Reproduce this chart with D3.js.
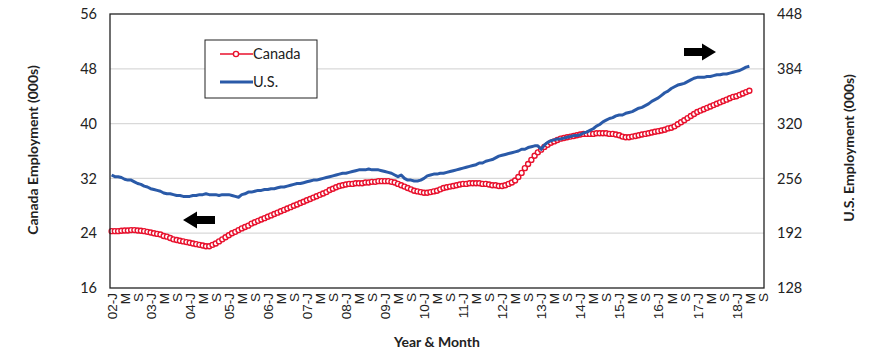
<!DOCTYPE html>
<html>
<head>
<meta charset="utf-8">
<script src="https://cdn.jsdelivr.net/npm/d3@7"></script>
<style>
  body { margin: 0; background: #fff; }
  svg { font-family: Lato, "DejaVu Sans", sans-serif; }
</style>
</head>
<body>
<svg width="870" height="362"></svg>
<script>
// category axis: Jan 2002 .. Sep 2018, labelled every 4th month
var years = ['02','03','04','05','06','07','08','09','10','11','12','13','14','15','16','17','18'];
var monthCodes = ['J','F','M','A','M','J','J','A','S','O','N','D'];
var lastMonth = 9; // axis runs to Sep of final year

// Canada employment (000s), monthly from 2002-01, one row per year
var canada = [
  24.3, 24.3, 24.3, 24.35, 24.4, 24.4, 24.45, 24.45, 24.4, 24.35, 24.3, 24.2,
  24.1, 24.0, 23.9, 23.8, 23.6, 23.5, 23.3, 23.1, 23.0, 22.9, 22.8, 22.7,
  22.6, 22.5, 22.4, 22.3, 22.2, 22.1, 22.1, 22.3, 22.5, 22.8, 23.1, 23.4,
  23.7, 24.0, 24.2, 24.45, 24.7, 24.9, 25.1, 25.4, 25.6, 25.8, 26.0, 26.2,
  26.4, 26.6, 26.8, 27.0, 27.2, 27.4, 27.6, 27.8, 28.0, 28.2, 28.4, 28.6,
  28.8, 29.0, 29.2, 29.4, 29.6, 29.8, 30.0, 30.3, 30.5, 30.7, 30.9, 31.0,
  31.1, 31.2, 31.2, 31.3, 31.3, 31.3, 31.4, 31.4, 31.5, 31.5, 31.6, 31.6,
  31.6, 31.6, 31.5, 31.4, 31.2, 31.0, 30.8, 30.6, 30.4, 30.2, 30.1, 30.0,
  29.9, 29.9, 30.0, 30.1, 30.2, 30.4, 30.6, 30.7, 30.8, 30.9, 31.0, 31.1,
  31.2, 31.2, 31.3, 31.3, 31.3, 31.3, 31.2, 31.2, 31.1, 31.0, 31.0, 30.9,
  30.9, 31.0, 31.2, 31.4, 31.7, 32.2, 32.8, 33.5, 34.1, 34.7, 35.3, 35.8,
  36.2, 36.6, 36.9, 37.2, 37.4, 37.6, 37.8, 37.9, 38.0, 38.1, 38.2, 38.3,
  38.4, 38.5, 38.5, 38.5, 38.5, 38.6, 38.6, 38.6, 38.6, 38.5, 38.5, 38.4,
  38.3, 38.1, 38.0, 38.0, 38.1, 38.2, 38.3, 38.4, 38.5, 38.6, 38.7, 38.8,
  38.9, 39.0, 39.1, 39.3, 39.4, 39.6, 39.9, 40.2, 40.5, 40.8, 41.1, 41.4,
  41.7, 41.9, 42.1, 42.3, 42.5, 42.7, 42.9, 43.1, 43.3, 43.5, 43.7, 43.9,
  44.0, 44.2, 44.4, 44.6, 44.8
];

// U.S. employment (000s), same months
var us = [
  260, 258, 258, 257, 255, 254, 254, 252, 250, 249, 247, 246,
  244, 243, 242, 241, 239, 238, 238, 237, 236, 236, 235, 235,
  235, 236, 236, 237, 237, 238, 237, 237, 237, 236, 237, 237,
  237, 236, 235, 234, 237, 238, 240, 240, 241, 242, 242, 243,
  243, 244, 244, 245, 246, 246, 247, 248, 249, 250, 250, 251,
  252, 253, 254, 254, 255, 256, 257, 258, 259, 260, 261, 262,
  262, 263, 264, 265, 266, 266, 266, 267, 266, 266, 266, 265,
  264, 263, 262, 260, 258, 260, 256, 254, 254, 253, 253, 254,
  256, 259, 260, 261, 261, 262, 262, 263, 264, 265, 266, 267,
  268, 269, 270, 271, 272, 274, 274, 276, 277, 278, 280, 282,
  283, 284, 285, 286, 287, 288, 290, 290, 292, 293, 294, 294,
  290, 295, 298, 300, 301, 302, 302, 303, 304, 305, 306, 306,
  307, 309, 310, 312, 314, 317, 319, 322, 324, 326, 327, 329,
  330, 330, 332, 333, 334, 336, 338, 339, 341, 343, 346, 348,
  350, 353, 356, 358, 361, 363, 365, 366, 367, 369, 371, 373,
  374, 374, 374, 375, 375, 376, 377, 377, 378, 378, 379, 380,
  381, 382, 384, 386, 387
];

var leftTicks = [16, 24, 32, 40, 48, 56];
var rightTicks = [128, 192, 256, 320, 384, 448];

var categories = [];
years.forEach(function(y, yi) {
  var n = (yi === years.length - 1) ? lastMonth : 12;
  for (var m = 0; m < n; m++) categories.push(y + '-' + m);
});
var tickLabel = function(c) {
  var p = c.split('-'), m = +p[1];
  return m === 0 ? p[0] + '-J' : monthCodes[m];
};

var svg = d3.select('svg');
var margin = {top: 14, right: 106, bottom: 74, left: 110},
    width = 870 - margin.left - margin.right,
    height = 362 - margin.top - margin.bottom;

var g = svg.append('g').attr('transform', 'translate(' + margin.left + ',' + margin.top + ')');

var x = d3.scalePoint().domain(categories).range([0, width]).padding(0.5);
var yL = d3.scaleLinear().domain([16, 56]).range([height, 0]);
var yR = d3.scaleLinear().domain([128, 448]).range([height, 0]);

// gridlines
g.selectAll('.grid').data(leftTicks.slice(1, -1)).enter().append('line')
    .attr('x1', 0).attr('x2', width)
    .attr('y1', function(d) { return yL(d); })
    .attr('y2', function(d) { return yL(d); })
    .attr('stroke', '#d9d9d9').attr('stroke-width', 1.2);

// axes
var axL = g.append('g')
    .call(d3.axisLeft(yL).tickValues(leftTicks).tickSize(0).tickPadding(13));
var axR = g.append('g').attr('transform', 'translate(' + width + ',0)')
    .call(d3.axisRight(yR).tickValues(rightTicks).tickSize(0).tickPadding(13));
var axB = g.append('g').attr('transform', 'translate(0,' + height + ')')
    .call(d3.axisBottom(x)
      .tickValues(categories.filter(function(d, i) { return i % 4 === 0; }))
      .tickFormat(tickLabel).tickSize(0));
[axL, axR].forEach(function(a) {
  a.select('.domain').remove();
  a.selectAll('text').attr('font-size', 14.5).attr('fill', '#222')
      .style('font-family', 'Lato, sans-serif');
});
axB.select('.domain').remove();
axB.selectAll('text')
    .attr('font-size', 13.5).attr('fill', '#222')
    .attr('text-anchor', 'end')
    .attr('transform', 'rotate(-90)')
    .attr('x', -5).attr('y', 0).attr('dy', '0.35em');

// series
var lineCa = d3.line()
    .x(function(d, i) { return x(categories[i]); })
    .y(function(d) { return yL(d); });
var lineUs = d3.line()
    .x(function(d, i) { return x(categories[i]); })
    .y(function(d) { return yR(d); });

g.append('path').datum(canada)
    .attr('d', lineCa).attr('fill', 'none')
    .attr('stroke', '#e8112d').attr('stroke-width', 1.5);
g.selectAll('.ca').data(canada).enter().append('circle')
    .attr('cx', function(d, i) { return x(categories[i]); })
    .attr('cy', function(d) { return yL(d); })
    .attr('r', 2.5)
    .attr('fill', '#fff').attr('stroke', '#e8112d').attr('stroke-width', 1.4);

g.append('path').datum(us)
    .attr('d', lineUs).attr('fill', 'none')
    .attr('stroke', '#2a5aa8').attr('stroke-width', 3)
    .attr('stroke-linejoin', 'round');

// frame
g.append('rect').attr('width', width).attr('height', height)
    .attr('fill', 'none').attr('stroke', '#222').attr('stroke-width', 1.3);

// axis titles
svg.append('text')
    .attr('transform', 'translate(38,' + (margin.top + 136) + ') rotate(-90)')
    .attr('text-anchor', 'middle').attr('font-size', 14).attr('font-weight', 'bold')
    .attr('fill', '#222').text('Canada Employment (000s)');
svg.append('text')
    .attr('transform', 'translate(854,' + (margin.top + 134) + ') rotate(-90)')
    .attr('text-anchor', 'middle').attr('font-size', 14).attr('font-weight', 'bold')
    .attr('fill', '#222').text('U.S. Employment (000s)');
svg.append('text')
    .attr('x', 437).attr('y', 347)
    .attr('text-anchor', 'middle').attr('font-size', 14).attr('font-weight', 'bold')
    .attr('fill', '#222').text('Year & Month');

// legend
var lg = svg.append('g').attr('transform', 'translate(205,40)');
lg.append('rect').attr('width', 112).attr('height', 58)
    .attr('fill', '#fff').attr('stroke', '#222').attr('stroke-width', 1);
lg.append('line').attr('x1', 15).attr('x2', 48).attr('y1', 14).attr('y2', 14)
    .attr('stroke', '#e8112d').attr('stroke-width', 1.5);
lg.append('circle').attr('cx', 31).attr('cy', 14).attr('r', 2.6)
    .attr('fill', '#fff').attr('stroke', '#e8112d').attr('stroke-width', 1.4);
lg.append('line').attr('x1', 15).attr('x2', 48).attr('y1', 42).attr('y2', 42)
    .attr('stroke', '#2a5aa8').attr('stroke-width', 3);
lg.append('text').attr('x', 48).attr('y', 14).attr('dy', '0.35em')
    .attr('font-size', 14.5).attr('fill', '#222').text('Canada');
lg.append('text').attr('x', 48).attr('y', 42).attr('dy', '0.35em')
    .attr('font-size', 14.5).attr('fill', '#222').text('U.S.');

// direction arrows
var arrow = function(x0, y0, dir) {
  var pts = [[0, -4], [18, -4], [18, -8.5], [32, 0], [18, 8.5], [18, 4], [0, 4]];
  svg.append('polygon')
      .attr('points', pts.map(function(p) { return (x0 + dir * p[0]) + ',' + (y0 + p[1]); }).join(' '))
      .attr('fill', '#000');
};
arrow(215, 220, -1);
arrow(684, 52, 1);
</script>
</body>
</html>
